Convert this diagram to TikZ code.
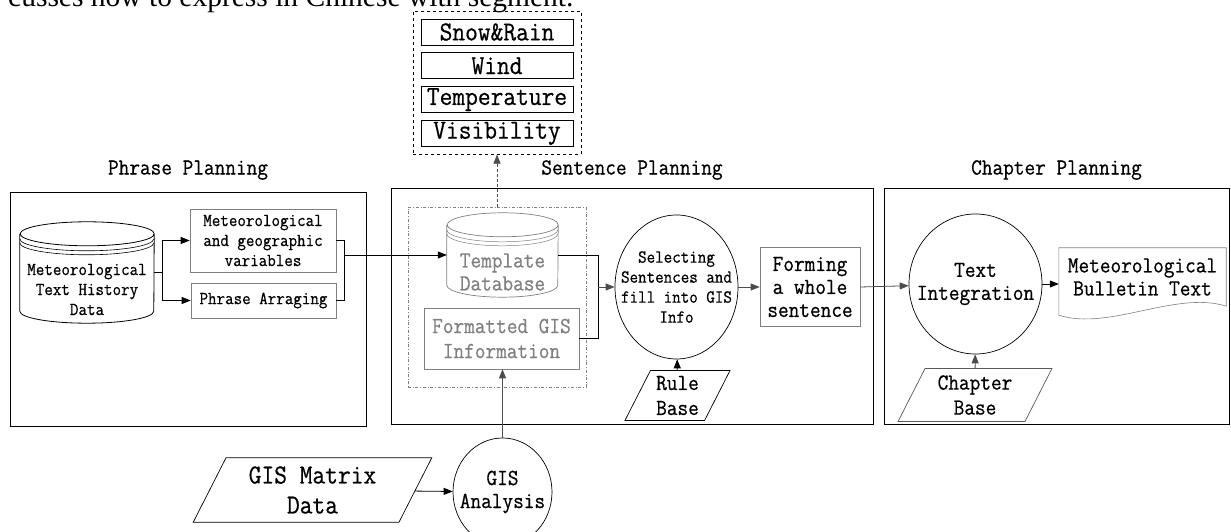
\documentclass[tikz,border=0pt]{standalone}
\usepackage{fontspec}
\setmainfont{Liberation Serif}
\newfontfamily\dgfont[FakeStretch=0.9, FakeBold=0.6]{Latin Modern Mono}
\usetikzlibrary{arrows.meta,positioning,fit,shapes.geometric}

\begin{document}
\begin{tikzpicture}[x=1pt, y=1pt,
  fs/.style={font=\dgfont\fontsize{18.4}{20}\selectfont},
  fm/.style={font=\dgfont\fontsize{23}{23}\selectfont},
  fb/.style={font=\dgfont\fontsize{23}{25}\selectfont},
  fl/.style={font=\dgfont\fontsize{27.5}{30}\selectfont},
  panel/.style={draw, line width=0.9pt, inner sep=0pt},
  ttl/.style={fm, anchor=base, inner sep=0pt},
  box/.style={draw, align=center, inner sep=1pt},
  gbox/.style={box, draw=gray, line width=0.6pt},
  seg/.style={draw, line width=0.8pt, fl, minimum width=152, minimum height=26, inner sep=0pt},
  circ/.style={ellipse, draw, line width=0.7pt, align=center, inner xsep=-16pt, inner ysep=-10pt},
  para/.style={trapezium, trapezium left angle=63, trapezium right angle=117, draw, line width=0.7pt, align=center, inner sep=0pt},
  dbnode/.style={inner sep=0pt},
  ar/.style={-{Triangle[length=9pt,width=7pt]}, line width=0.8pt},
  gar/.style={ar, color=gray!60!black}]
\fill[white] (0,0) rectangle (1231,532);
\useasboundingbox (0,0) rectangle (1231,532);
\node[anchor=base west, inner sep=0pt, font=\fontsize{29.5}{32}\selectfont] (cut) at (8,525) {cusses how to express in Chinese with segment.};
\node[seg] (snow) at (497,500) {Snow\&Rain};
\node[seg, below=7pt of snow] (wind) {Wind};
\node[seg, below=7pt of wind] (temp) {Temperature};
\node[seg, below=7pt of temp] (vis) {Visibility};
\node[draw, dashed, line width=0.6pt, inner sep=7.5pt, fit=(snow)(vis)] (segbox) {};
\node[panel, minimum width=356, minimum height=234] (pbox) at (188,223) {};
\node[panel, minimum width=482, minimum height=236] (sbox) at (632,226) {};
\node[panel, minimum width=345, minimum height=236] (cbox) at (1056.5,226) {};
\node[ttl] (ptl) at ([yshift=17]pbox.north) {Phrase Planning};
\node[ttl] (stl) at ([yshift=13]sbox.north) {Sentence Planning};
\node[ttl] (ctl) at ([yshift=13]cbox.north) {Chapter Planning};
\node[dbnode, minimum width=134, minimum height=101] (hist) at (87,259.5) {};
\node[fs, align=center] (histtxt) at ([yshift=-17]hist.center) {Meteorological\\Text History\\Data};
\draw[line width=0.8pt] ([yshift=-12]hist.north west) -- ([yshift=12]hist.south west)
  arc[start angle=180, end angle=360, x radius=67, y radius=12] -- ([yshift=-12]hist.north east)
  arc[start angle=0, end angle=360, x radius=67, y radius=12];
\foreach \d in {17,21}
  \draw[line width=0.6pt] ([yshift=-\d]hist.north west) arc[start angle=180, end angle=360, x radius=67, y radius=12];
\node[gbox, fs, minimum width=146, minimum height=63] (mv) at (263,291.5) {Meteorological\\and geographic\\variables};
\node[gbox, fs, minimum width=145, minimum height=35] (pa) at (263.5,231.5) {Phrase Arraging};
\draw[ar] (hist.east) -- ++(8,0) |- (mv.west);
\draw[ar] (hist.east) -- ++(8,0) |- (pa.west);
\node[draw=gray, dash dot, line width=0.6pt, minimum width=178, minimum height=180, inner sep=0pt] (gisgrp) at (497,235) {};
\node[dbnode, minimum width=111, minimum height=84] (tmpl) at (502.5,277) {};
\node[fm, text=gray, align=center] (tmpltxt) at ([yshift=-17]tmpl.center) {Template\\Database};
\draw[gray, line width=0.7pt] ([yshift=-12]tmpl.north west) -- ([yshift=12]tmpl.south west)
  arc[start angle=180, end angle=360, x radius=55.5, y radius=12] -- ([yshift=-12]tmpl.north east)
  arc[start angle=0, end angle=360, x radius=55.5, y radius=12];
\foreach \d in {17,21}
  \draw[gray, line width=0.5pt] ([yshift=-\d]tmpl.north west) arc[start angle=180, end angle=360, x radius=55.5, y radius=12];
\node[gbox, fb, text=gray, minimum width=155, minimum height=61] (fgis) at (501.5,193.5) {Formatted GIS\\Information};
\draw[line width=0.6pt] (mv.east) -- ++(8,0) coordinate (brk) |- (pa.east);
\draw[ar] (brk |- tmpl.west) -- (tmpl.west);
\draw[gar, densely dashed, line width=0.6pt] (gisgrp.north) -- (segbox.south);
\node[circ, fs, minimum width=123, minimum height=144] (sel) at (676.5,245) {Selecting\\Sentences and\\fill into GIS\\Info};
\draw[line width=0.6pt] (tmpl.east) -- ++(40,0) coordinate (jc) |- (fgis.east);
\draw[gar] (jc |- sel.west) -- (sel.west);
\node[gbox, fm, minimum width=100, minimum height=79] (form) at (810,245) {Forming\\a whole\\sentence};
\draw[gar] (sel) -- (form);
\node[para, fb, minimum width=105, minimum height=47] (rule) at (677.5,136.5) {Rule\\Base};
\draw[ar] (rule) -- (sel);
\node[circ, fm, minimum width=133, minimum height=140] (integ) at (975.5,248) {Text\\Integration};
\draw[gar] (form.east) -- (integ);
\node[fm, align=center, minimum width=167, minimum height=58, inner sep=0pt] (bull) at (1142.5,255) {Meteorological\\Bulletin Text};
\draw[gray, line width=0.6pt] (bull.north west) -- ([yshift=-9]bull.south west)
  .. controls +(50,-16) and +(-50,16) .. (bull.south east) -- (bull.north east) -- cycle;
\draw[ar] (integ) -- (integ -| bull.west);
\node[para, fb, draw=gray!70!black, minimum width=154, minimum height=46] (cbase) at (975,137) {Chapter\\Base};
\draw[gar] (cbase) -- (integ);
\node[para, fl, minimum width=239, minimum height=56] (gmat) at (312.5,42) {GIS Matrix\\Data};
\node[circ, fm, minimum width=99, minimum height=108] (gana) at (502.5,40) {GIS\\Analysis};
\draw[ar] (gmat) -- (gana);
\draw[gar] (gana) -- (gana |- fgis.south);
\end{tikzpicture}
\end{document}
